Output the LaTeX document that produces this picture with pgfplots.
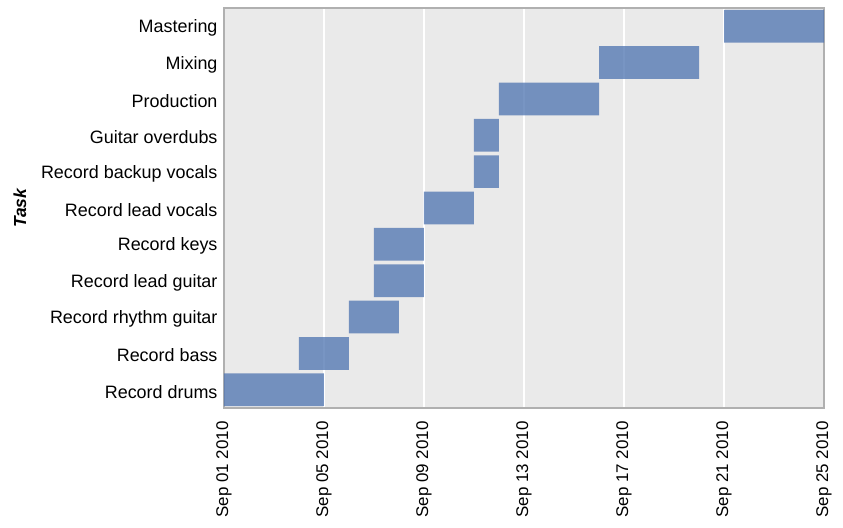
\documentclass[border=0pt]{standalone}
\usepackage{fontspec}
\setmainfont{Liberation Sans}
\usepackage{pgfplots}
\usepackage{pgfplotstable}
\pgfplotsset{compat=1.18}
\definecolor{barblue}{HTML}{4C72B0}
\definecolor{panelbg}{HTML}{EAEAEA}
\definecolor{framegray}{HTML}{B0B0B0}

% task index, start day (0 = Sep 01), duration in days
\pgfplotstableread{
y start dur
0 0 4
1 3 2
2 5 2
3 6 2
4 6 2
5 8 2
6 10 1
7 10 1
8 11 4
9 15 4
10 20 4
}\tasks

\begin{document}
\begin{tikzpicture}
\begin{axis}[
    scale only axis,
    width=600bp, height=400bp,
    xbar stacked,
    bar width=0.9,
    xmin=0, xmax=24,
    ymin=-0.5, ymax=10.5,
    axis background/.style={fill=panelbg},
    axis line style={framegray, line width=1.2bp},
    xmajorgrids,
    grid style={white, line width=1.5bp},
    major tick length=0pt,
    xtick={0,4,...,24},
    xticklabels={Sep 01 2010,Sep 05 2010,Sep 09 2010,Sep 13 2010,Sep 17 2010,Sep 21 2010,Sep 25 2010},
    xticklabel style={rotate=90, anchor=east, xshift=-10bp, font=\fontsize{17}{20}\selectfont},
    ytick={0,...,10},
    yticklabels={Record drums,Record bass,Record rhythm guitar,Record lead guitar,Record keys,Record lead vocals,Record backup vocals,Guitar overdubs,Production,Mixing,Mastering},
    yticklabel style={xshift=-3bp, yshift=-2bp, font=\fontsize{18}{20}\selectfont},
    ylabel={\textbf{\textit{Task}}},
    ylabel style={font=\fontsize{17.5}{20}\selectfont, yshift=8bp},
]
\addplot[draw=none, fill=none, forget plot] table[x=start, y=y] {\tasks};
\addplot[draw=none, fill=barblue, fill opacity=0.75] table[x=dur, y=y] {\tasks};
\end{axis}
\path (current axis.south west) ++(-224bp,-120bp) (current axis.north east) ++(19bp,8bp);
\end{tikzpicture}
\end{document}
